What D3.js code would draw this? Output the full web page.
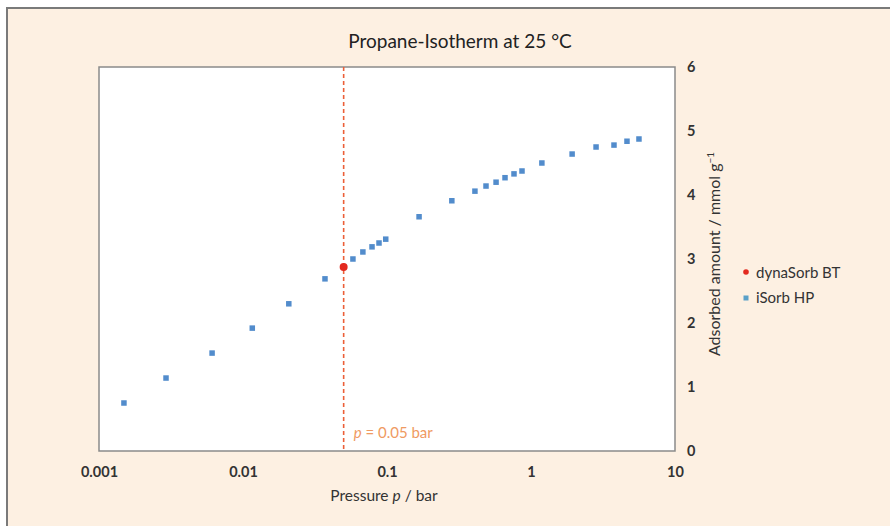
<!DOCTYPE html>
<html><head><meta charset="utf-8">
<script src="https://cdn.jsdelivr.net/npm/d3@7"></script>
<style>body{margin:0;background:#fff;} svg{display:block;} text{font-family:Lato,"Open Sans",sans-serif;}</style>
</head><body><svg id="c" width="890" height="526"></svg>
<script>
const title = "Propane-Isotherm at 25 °C";
const isorbP = [0.00149,0.00292,0.0061,0.0116,0.0208,0.0371,0.058,0.068,0.0787,0.088,0.098,0.167,0.282,0.408,0.487,0.572,0.66,0.762,0.866,1.19,1.93,2.83,3.77,4.64,5.62];
const isorbQ = [0.75,1.14,1.53,1.92,2.30,2.69,3.0,3.11,3.19,3.25,3.31,3.66,3.91,4.06,4.14,4.20,4.27,4.33,4.375,4.50,4.64,4.75,4.78,4.84,4.875];
const dynaP = [0.05];
const dynaQ = [2.875];
const xTicks = [0.001,0.01,0.1,1,10];
const xTickLabels = ["0.001","0.01","0.1","1","10"];
const yTicks = [0,1,2,3,4,5,6];
const refP = 0.05;
const seriesNames = ["dynaSorb BT","iSorb HP"];

const svg = d3.select("#c");
svg.append("rect").attr("x",7).attr("y",8).attr("width",890).attr("height",530).attr("fill","#fdf0e2");
svg.append("line").attr("x1",6).attr("x2",890).attr("y1",8).attr("y2",8).attr("stroke","#7a7a7a").attr("stroke-width",2);
svg.append("line").attr("x1",7).attr("x2",7).attr("y1",8).attr("y2",526).attr("stroke","#7a7a7a").attr("stroke-width",2);

const L=99,R=675,T=67,B=451;
const x = d3.scaleLog().domain([0.001,10]).range([L,R]);
const y = d3.scaleLinear().domain([0,6]).range([B,T]);

svg.append("rect").attr("x",L).attr("y",T).attr("width",R-L).attr("height",B-T).attr("fill","#fff").attr("stroke","#8a8a8a").attr("stroke-width",1.5);

svg.append("text").attr("x",460).attr("y",48).attr("text-anchor","middle").attr("font-size",19).attr("fill","#222").text(title);

const xa = svg.append("g").attr("transform",`translate(0,${B})`)
  .call(d3.axisBottom(x).tickValues(xTicks).tickFormat((d,i)=>xTickLabels[i]).tickSize(0).tickPadding(16));
xa.select(".domain").remove();
xa.selectAll("text").attr("font-family","Lato,'Open Sans',sans-serif").attr("font-size",14.5).attr("font-weight",700).attr("fill","#333");

const ya = svg.append("g").attr("transform",`translate(${R},0)`)
  .call(d3.axisRight(y).tickValues(yTicks).tickFormat(d3.format("d")).tickSize(0).tickPadding(12));
ya.select(".domain").remove();
ya.selectAll("text").attr("font-family","Lato,'Open Sans',sans-serif").attr("font-size",14.5).attr("font-weight",700).attr("fill","#333");

const xt = svg.append("text").attr("x",384).attr("y",501).attr("text-anchor","middle").attr("font-size",15.5).attr("fill","#333");
xt.append("tspan").text("Pressure ");
xt.append("tspan").attr("font-style","italic").text("p");
xt.append("tspan").text(" / bar");
const yt = svg.append("text").attr("transform","translate(720,254) rotate(-90)").attr("text-anchor","middle").attr("font-size",16).attr("fill","#333");
yt.append("tspan").text("Adsorbed amount / mmol g");
yt.append("tspan").attr("dy",-6).attr("font-size",10).text("−1");

svg.append("line").attr("x1",x(refP)).attr("x2",x(refP)).attr("y1",T).attr("y2",B)
  .attr("stroke","#ec5f38").attr("stroke-width",1.6).attr("stroke-dasharray","4,3");
const an = svg.append("text").attr("x",x(refP)+10).attr("y",438).attr("font-size",15).attr("fill","#ef9a62");
an.append("tspan").attr("font-style","italic").text("p");
an.append("tspan").text(" = 0.05 bar");

const isorb = isorbP.map((p,i)=>({p,q:isorbQ[i]}));
svg.append("g").selectAll("rect").data(isorb).enter().append("rect")
  .attr("x",d=>x(d.p)-2.75).attr("y",d=>y(d.q)-2.75).attr("width",5.5).attr("height",5.5)
  .attr("fill","#3f7fc7").attr("opacity",0.9);
const dyna = dynaP.map((p,i)=>({p,q:dynaQ[i]}));
svg.append("g").selectAll("circle").data(dyna).enter().append("circle")
  .attr("cx",d=>x(d.p)).attr("cy",d=>y(d.q)).attr("r",4).attr("fill","#e3291f");

svg.append("circle").attr("cx",746).attr("cy",272).attr("r",2.8).attr("fill","#e3291f");
svg.append("text").attr("x",756).attr("y",277.5).attr("font-size",15).attr("fill","#333").text(seriesNames[0]);
svg.append("rect").attr("x",743.5).attr("y",295.5).attr("width",5).attr("height",5).attr("fill","#5aa0c8");
svg.append("text").attr("x",756).attr("y",303).attr("font-size",15).attr("fill","#333").text(seriesNames[1]);
</script></body></html>
